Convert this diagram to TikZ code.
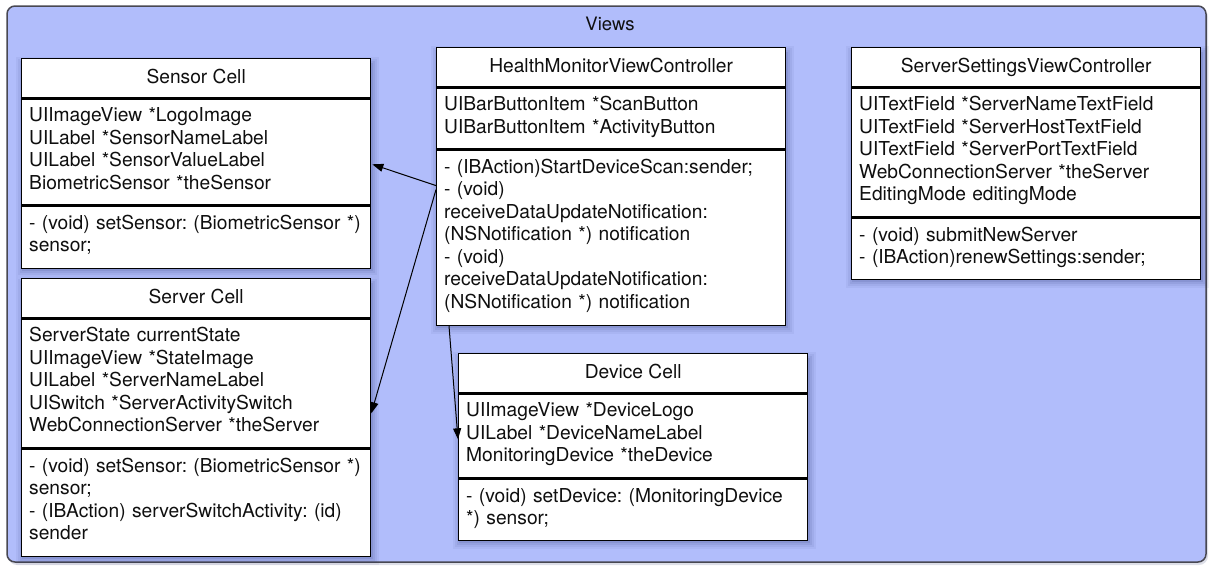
\documentclass[tikz,border=0pt]{standalone}
\usepackage{fontspec}
\setmainfont{TeX Gyre Heros}
\usetikzlibrary{calc,arrows.meta}
\frenchspacing

\definecolor{viewsfill}{RGB}{177,189,251}
\definecolor{framec}{RGB}{72,72,82}
\definecolor{shadowc}{RGB}{30,38,100}
\definecolor{inkc}{RGB}{15,15,15}

\tikzset{
  x=1pt, y=-1pt,
  comp/.style={draw=black, line width=1.3pt, fill=white, minimum width=349pt,
    inner sep=0pt, anchor=north west},
  umlfont/.style={font=\fontsize{19.2}{22.5}\selectfont, text=inkc},
  titletext/.style={umlfont, anchor=base, inner sep=0pt},
  bodytext/.style={umlfont, anchor=base west, inner sep=0pt, align=left, text width=400pt},
  dep/.style={draw=black, line width=1pt, -{Triangle[length=11pt,width=8pt]}},
}

% A class box: name, left, top, attribute height, operation height,
% title, attributes, operations
\newcommand\umlclass[8]{%
  \foreach \e/\o in {7/.05,5/.06,3/.08,1/.10}{%
    \fill[shadowc, opacity=\o]
      (#2+2-\e, #3+6-\e) rectangle (#2+351+\e, #3+39+#4+#5+5+\e);
  }
  \node[comp, minimum height=39pt] (#1-t) at (#2,#3) {};
  \node[comp, minimum height=#4pt] (#1-a) at (#1-t.south west) {};
  \node[comp, minimum height=#5pt] (#1-o) at (#1-a.south west) {};
  \node[titletext] (#1-tt) at ($(#1-t.center)+(0,5.5)$) {#6};
  \node[bodytext] (#1-at) at ($(#1-a.north west)+(8,23.5)$) {#7};
  \node[bodytext] (#1-ot) at ($(#1-o.north west)+(8,23.5)$) {#8};
}

\begin{document}
\begin{tikzpicture}
  \useasboundingbox (0,0) rectangle (1209,565);

  % package frame
  \fill[shadowc, opacity=.15, rounded corners=9pt] (8,8) rectangle (1208,565);
  \draw[framec, line width=1.5pt, fill=viewsfill, rounded corners=8pt]
    (7,6) rectangle (1206,562);
  \node[titletext, font=\fontsize{18.5}{22}\selectfont] (views) at (610,30) {Views};

  \umlclass{sc}{21}{58}{106}{62}{Sensor Cell}
    {UIImageView *LogoImage\\UILabel *SensorNameLabel\\UILabel *SensorValueLabel\\BiometricSensor *theSensor}
    {- (void) setSensor: (BiometricSensor *)\\sensor;}

  \umlclass{sv}{21}{278}{129}{107}{Server Cell}
    {ServerState currentState\\UIImageView *StateImage\\UILabel *ServerNameLabel\\UISwitch *ServerActivitySwitch\\WebConnectionServer *theServer}
    {- (void) setSensor: (BiometricSensor *)\\sensor;\\- (IBAction) serverSwitchActivity: (id)\\sender}

  \umlclass{hm}{436}{47}{61}{175}{HealthMonitorViewController}
    {UIBarButtonItem *ScanButton\\UIBarButtonItem *ActivityButton}
    {- (IBAction)StartDeviceScan:sender;\\- (void)\\receiveDataUpdateNotification:\\(NSNotification *) notification\\- (void)\\receiveDataUpdateNotification:\\(NSNotification *) notification}

  \umlclass{ss}{851}{47}{129}{61}{ServerSettingsViewController}
    {UITextField *ServerNameTextField\\UITextField *ServerHostTextField\\UITextField *ServerPortTextField\\WebConnectionServer *theServer\\EditingMode editingMode}
    {- (void) submitNewServer\\- (IBAction)renewSettings:sender;}

  \umlclass{dc}{458}{353}{84}{61}{Device Cell}
    {UIImageView *DeviceLogo\\UILabel *DeviceNameLabel\\MonitoringDevice *theDevice}
    {- (void) setDevice: (MonitoringDevice\\{}*) sensor;}

  % dependencies
  \coordinate (hm-s1) at ($(hm-o.north west)+(0,36)$);
  \coordinate (hm-s2) at ($(hm-o.north west)+(0,40)$);
  \coordinate (hm-s3) at ($(hm-o.south west)+(13,0)$);
  \coordinate (sc-in) at ($(sc-a.north east)+(1,66)$);
  \coordinate (sv-in) at ($(sv-a.north east)+(0,95)$);
  \coordinate (dc-in) at ($(dc-a.north west)+(0,46)$);
  \draw[dep] (hm-s1) -- (sc-in);
  \draw[dep] (hm-s2) -- (sv-in);
  \draw[dep] (hm-s3) -- (dc-in);
\end{tikzpicture}
\end{document}
